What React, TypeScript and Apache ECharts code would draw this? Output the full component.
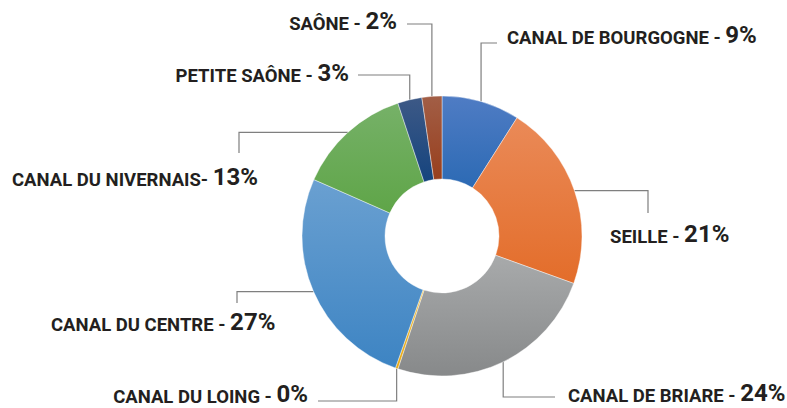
import React, { useEffect, useRef } from 'react';
import * as echarts from 'echarts';

const names = [
  'Canal de Bourgogne',
  'Seille',
  'Canal de Briare',
  'Canal du Loing',
  'Canal du Centre',
  'Canal du Nivernais',
  'Petite Saône',
  'Saône',
];
const values = [9.0, 21.5, 24.6, 0.3, 26.2, 13.3, 2.8, 2.3];
const labelNames = [
  'CANAL DE BOURGOGNE - ',
  'SEILLE - ',
  'CANAL DE BRIARE - ',
  'CANAL DU LOING - ',
  'CANAL DU CENTRE - ',
  'CANAL DU NIVERNAIS- ',
  'PETITE SAÔNE - ',
  'SAÔNE - ',
];
const pctLabels = ['9%', '21%', '24%', '0%', '27%', '13%', '3%', '2%'];

const colorsTop = ['#4f7cc4', '#ea8a58', '#a8aaab', '#f2b92e', '#6aa0d1', '#76b168', '#3d5986', '#a25e46'];
const colorsBottom = ['#2c6ab4', '#e36d2a', '#87898a', '#e8a914', '#3d84c3', '#5fa548', '#15447e', '#983f1d'];

// leader-line / label placement (style config)
const layoutCfg = [
  { dir: 'v', ey: 43, ex: 497, lx: 507, ly: 37, align: 'left' },
  { dir: 'h', ex: 648, ey: 213, lx: 610, ly: 236, align: 'left' },
  { dir: 'v', ey: 397, ex: 555, lx: 568, ly: 395, align: 'left' },
  { dir: 'v', ey: 401, ex: 318, lx: 308, ly: 396, align: 'right' },
  { dir: 'h', ex: 237, ey: 303, lx: 51, ly: 324, align: 'left' },
  { dir: 'h', ex: 239, ey: 153, lx: 12, ly: 179, align: 'left' },
  { dir: 'v', ey: 75, ex: 358, lx: 349, ly: 75, align: 'right' },
  { dir: 'v', ey: 24, ex: 407, lx: 397, ly: 23, align: 'right' },
];

export default function App() {
  const ref = useRef<HTMLDivElement>(null);
  useEffect(() => {
    document.body.style.margin = '0';
    if (!ref.current) return;
    const chart = echarts.init(ref.current, null, { renderer: 'svg' });
    const data = names.map((n, i) => ({
      name: n,
      value: values[i],
      itemStyle: {
        color: new echarts.graphic.LinearGradient(0, 0, 0, 1, [
          { offset: 0, color: colorsTop[i] },
          { offset: 1, color: colorsBottom[i] },
        ]),
      },
    }));
    chart.setOption({
      animation: false,
      backgroundColor: '#ffffff',
      series: [
        {
          type: 'pie',
          center: [442, 236],
          radius: [57, 140],
          startAngle: 90,
          clockwise: true,
          avoidLabelOverlap: false,
          minAngle: 0,
          itemStyle: { borderColor: 'rgba(255,255,255,0.7)', borderWidth: 0.6 },
          emphasis: { disabled: true },
          label: {
            show: true,
            position: 'outside',
            formatter: (p: any) => `{a|${labelNames[p.dataIndex]}}{b|${pctLabels[p.dataIndex]}}`,
            rich: {
              a: {
                fontFamily: 'Roboto',
                fontWeight: 'bold',
                fontSize: 18.5,
                lineHeight: 20,
                color: '#231f20',
                verticalAlign: 'bottom',
              },
              b: {
                fontFamily: 'Roboto',
                fontWeight: 'bold',
                fontSize: 24,
                lineHeight: 20,
                color: '#231f20',
                verticalAlign: 'bottom',
              },
            },
          },
          labelLine: {
            show: true,
            length: 10,
            length2: 10,
            lineStyle: { color: '#7f7f7f', width: 1.2 },
          },
          labelLayout: (params: any) => {
            const i = params.dataIndex;
            const c = layoutCfg[i];
            const A = params.labelLinePoints ? params.labelLinePoints[0] : [0, 0];
            const pts =
              c.dir === 'v'
                ? [[A[0], A[1]], [A[0], c.ey], [c.ex, c.ey]]
                : [[A[0], A[1]], [c.ex, A[1]], [c.ex, c.ey]];
            return {
              x: c.lx,
              y: c.ly,
              align: c.align,
              verticalAlign: 'middle',
              labelLinePoints: pts,
            };
          },
          data,
        },
      ],
    });
    return () => chart.dispose();
  }, []);
  return <div ref={ref} style={{ width: 787, height: 408 }} />;
}
